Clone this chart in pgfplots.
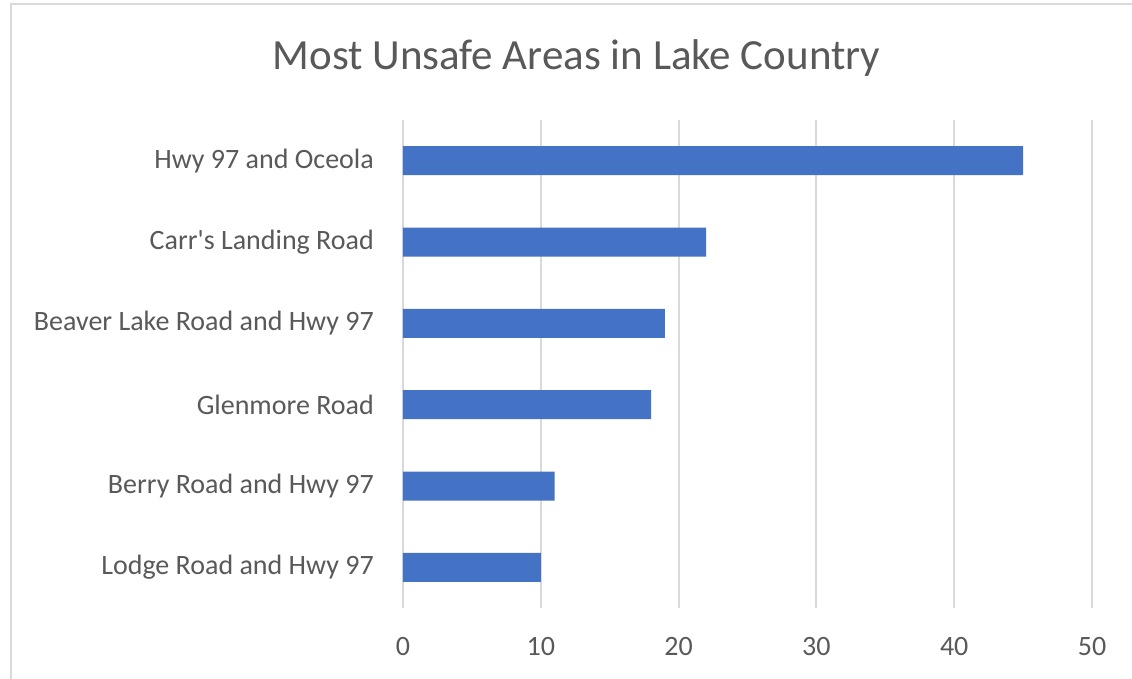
\documentclass[border=0pt]{standalone}
\usepackage{pgfplots}
\pgfplotsset{compat=1.18}
\usepackage{fontspec}
\setmainfont{Carlito}
\definecolor{barblue}{HTML}{4472C4}
\definecolor{gridgray}{HTML}{D9D9D9}
\definecolor{txt}{HTML}{595959}
\begin{document}
\begin{tikzpicture}
\useasboundingbox (-403pt,-70pt) rectangle (729pt,608pt);
\fill[white] (-403pt,-70pt) rectangle (729pt,608pt);
\draw[gridgray, line width=2.5pt] (-392pt,-80pt) -- (-392pt,604pt) -- (740pt,604pt);
\node[anchor=base, text=txt, font=\fontsize{43}{50}\selectfont] at (173.5pt,538pt) {Most Unsafe Areas in Lake Country};
\begin{axis}[
  at={(0pt,0pt)}, anchor=south west,
  scale only axis, width=689pt, height=488pt,
  xbar, bar width=29pt,
  xmin=0, xmax=50, ymin=-0.5, ymax=5.5,
  xtick={0,10,20,30,40,50},
  ytick={0,1,2,3,4,5},
  yticklabels={Lodge Road and Hwy 97, Berry Road and Hwy 97, Glenmore Road, Beaver Lake Road and Hwy 97, Carr\textquotesingle s Landing Road, Hwy 97 and Oceola},
  xmajorgrids, major grid style={gridgray, line width=2pt},
  axis line style={draw=none},
  major tick length=0pt,
  tick style={draw=none},
  /pgf/number format/assume math mode=true,
  xticklabel style={anchor=base, text=txt, font=\fontsize{28}{32}\selectfont, yshift=-47pt, inner sep=0pt},
  yticklabel style={anchor=east, text=txt, font=\fontsize{28}{32}\selectfont, xshift=-29pt, inner sep=0pt},
  clip=false,
]
\addplot[fill=barblue, draw=none] coordinates {(10,0) (11,1) (18,2) (19,3) (22,4) (45,5)};
\end{axis}
\end{tikzpicture}
\end{document}
